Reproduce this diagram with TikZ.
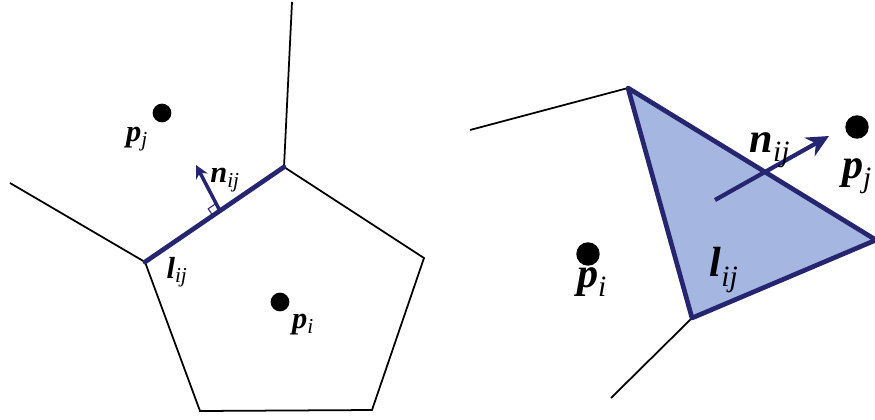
\documentclass[tikz,border=0pt]{standalone}
\usepackage{fontspec}
\setmainfont{Liberation Serif}
\usetikzlibrary{arrows.meta, calc}

\definecolor{edgeblue}{RGB}{38,38,112}
\definecolor{cellfill}{RGB}{165,183,224}

\tikzset{
  cell/.style={line width=1.5pt, black},
  face/.style={line width=4pt, edgeblue, line join=round},
  site/.style={circle, fill=black, inner sep=0pt, minimum size=#1},
  lbl/.style={font=\fontsize{26}{26}\selectfont\bfseries\itshape, inner sep=0pt},
  biglbl/.style={font=\fontsize{36}{36}\selectfont\bfseries\itshape, inner sep=0pt}
}
\newcommand{\idx}[1]{\textsubscript{\mdseries #1}}

\begin{document}
\begin{tikzpicture}[x=0.03cm, y=-0.03cm]
  \useasboundingbox (0,0) rectangle (875,419);

  % CELLULE DE VORONOI
  \begin{scope}
    \coordinate (A) at (145,262);
    \coordinate (B) at (284,167);
    \coordinate (C) at (424,258);
    \coordinate (D) at (372,410);
    \coordinate (E) at (200,411);
    \coordinate (topend) at (292,2);
    \coordinate (leftend) at (10,183);

    \draw[cell] (leftend) -- (A);
    \draw[cell] (topend) -- (B);
    \draw[cell] (B) -- (C) -- (D) -- (E) -- (A);
    \draw[face, line cap=round] (A) -- (B);

    % normale sur la face
    \coordinate (foot) at (220,211);
    \coordinate (tip) at (196,165);
    \draw[edgeblue, line width=0.9pt] (foot) -- ++(-7,4.8) -- ++(-4.8,-7) -- ++(7,-4.8);
    \draw[-{Stealth[length=11pt, width=11pt]}, line width=3pt, edgeblue] (foot) -- (tip);

    \node[site=16pt] (pj) at (162,113) {};
    \node[site=16pt] (pi) at (280,302) {};
    \node[lbl] (pjlbl) at (137,139) {p\idx{j}};
    \node[lbl] (pilbl) at (303,325) {p\idx{i}};
    \node[lbl] (nlbl) at (225,180) {n\idx{ij}};
    \node[lbl] (llbl) at (177,272) {l\idx{ij}};
  \end{scope}

  % FACETTE
  \begin{scope}
    \coordinate (T) at (628,88);
    \coordinate (R) at (876,240);
    \coordinate (S) at (692,318);
    \coordinate (farleft) at (470,130);
    \coordinate (farlow) at (611,398);

    \draw[cell] (farleft) -- (T);
    \draw[cell] (S) -- (farlow);
    \filldraw[face, fill=cellfill] (T) -- (R) -- (S) -- cycle;

    \coordinate (base) at (715,200);
    \coordinate (head) at (829,136);
    \draw[-{Stealth[length=19pt, width=18pt]}, line width=3.6pt, edgeblue] (base) -- (head);

    \node[site=20pt] (qj) at (857,127) {};
    \node[site=20pt] (qi) at (588,254) {};
    \node[biglbl] (qjlbl) at (857,176) {p\idx{j}};
    \node[biglbl] (qilbl) at (592,282) {p\idx{i}};
    \node[biglbl] (mlbl) at (770,150) {n\idx{ij}};
    \node[biglbl] (klbl) at (724,270) {l\idx{ij}};
  \end{scope}
\end{tikzpicture}
\end{document}
